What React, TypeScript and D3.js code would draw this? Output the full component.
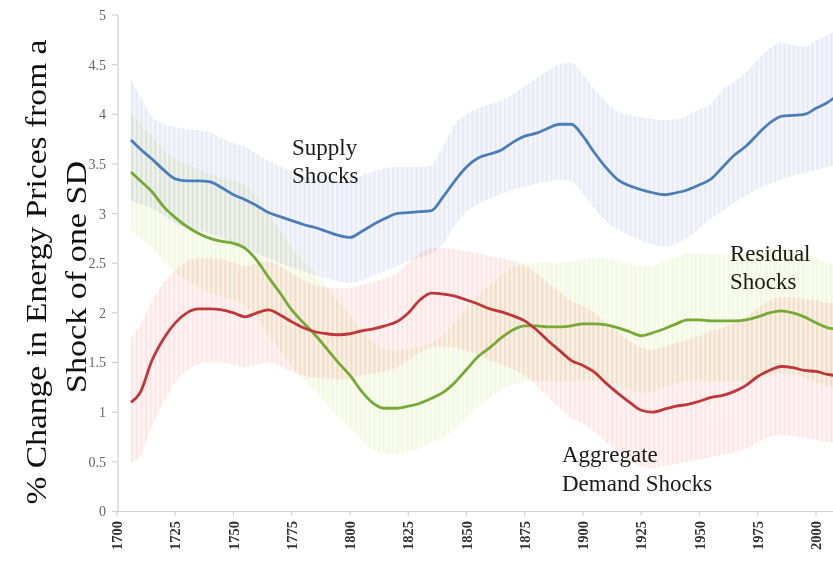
import React from "react";
import * as d3 from "d3";

const years = [1706,1710,1715,1720,1725,1730,1735,1740,1745,1750,1755,1760,1765,1770,1775,1780,1785,1790,1795,1800,1805,1810,1815,1820,1825,1830,1835,1840,1845,1850,1855,1860,1865,1870,1875,1880,1885,1890,1895,1900,1905,1910,1915,1920,1925,1930,1935,1940,1945,1950,1955,1960,1965,1970,1975,1980,1985,1990,1995,2000,2005,2008];

const supply = [3.74,3.65,3.55,3.44,3.35,3.33,3.33,3.32,3.26,3.19,3.14,3.08,3.01,2.97,2.93,2.89,2.86,2.82,2.78,2.76,2.82,2.89,2.95,3.0,3.01,3.02,3.03,3.17,3.33,3.47,3.56,3.6,3.64,3.72,3.78,3.81,3.86,3.9,3.9,3.78,3.61,3.46,3.34,3.28,3.24,3.21,3.19,3.21,3.24,3.29,3.35,3.47,3.59,3.68,3.8,3.91,3.98,3.99,4.0,4.06,4.12,4.17];
const supplyHi = [4.35,4.18,3.98,3.9,3.87,3.85,3.84,3.82,3.76,3.71,3.67,3.6,3.53,3.48,3.42,3.38,3.35,3.33,3.32,3.33,3.38,3.43,3.46,3.47,3.47,3.47,3.49,3.68,3.9,4.0,4.06,4.1,4.14,4.2,4.28,4.36,4.44,4.5,4.52,4.4,4.25,4.12,4.03,3.99,3.97,3.95,3.94,3.95,3.99,4.05,4.11,4.25,4.33,4.42,4.55,4.66,4.72,4.7,4.68,4.74,4.8,4.83];
const supplyLo = [3.13,3.1,3.05,2.98,2.9,2.85,2.83,2.8,2.76,2.7,2.65,2.6,2.55,2.5,2.46,2.42,2.38,2.35,2.32,2.3,2.33,2.38,2.42,2.47,2.52,2.56,2.6,2.7,2.88,3.02,3.1,3.15,3.2,3.24,3.27,3.3,3.32,3.34,3.32,3.2,3.05,2.92,2.84,2.78,2.73,2.69,2.67,2.7,2.76,2.85,2.95,3.03,3.11,3.18,3.25,3.3,3.34,3.38,3.41,3.44,3.47,3.48];

const residual = [3.42,3.33,3.22,3.07,2.96,2.87,2.8,2.75,2.72,2.7,2.65,2.53,2.36,2.2,2.03,1.9,1.78,1.64,1.5,1.37,1.21,1.09,1.04,1.04,1.06,1.09,1.14,1.2,1.3,1.43,1.56,1.65,1.75,1.83,1.87,1.87,1.86,1.86,1.87,1.89,1.89,1.88,1.85,1.81,1.77,1.8,1.84,1.89,1.93,1.93,1.92,1.92,1.92,1.93,1.96,2.0,2.02,2.0,1.96,1.9,1.85,1.84];
const residualHi = [4.01,3.9,3.78,3.64,3.55,3.5,3.45,3.4,3.36,3.33,3.28,3.17,3.0,2.83,2.66,2.52,2.4,2.26,2.12,1.98,1.82,1.7,1.64,1.62,1.63,1.66,1.7,1.78,1.9,2.05,2.18,2.28,2.38,2.46,2.5,2.51,2.51,2.51,2.52,2.54,2.55,2.55,2.53,2.5,2.47,2.48,2.52,2.56,2.6,2.6,2.59,2.59,2.59,2.6,2.62,2.65,2.66,2.64,2.6,2.55,2.5,2.49];
const residualLo = [2.83,2.76,2.66,2.52,2.42,2.33,2.26,2.2,2.16,2.13,2.07,1.95,1.78,1.62,1.46,1.33,1.21,1.08,0.95,0.84,0.72,0.62,0.58,0.58,0.6,0.64,0.69,0.74,0.83,0.94,1.06,1.14,1.22,1.28,1.31,1.32,1.31,1.31,1.31,1.32,1.32,1.3,1.27,1.23,1.19,1.21,1.25,1.29,1.32,1.32,1.31,1.31,1.31,1.32,1.34,1.37,1.39,1.38,1.35,1.3,1.26,1.25];

const demand = [1.1,1.2,1.52,1.74,1.9,2.0,2.04,2.04,2.03,2.0,1.96,2.0,2.03,1.98,1.91,1.85,1.81,1.79,1.78,1.79,1.82,1.84,1.87,1.91,2.0,2.13,2.2,2.19,2.17,2.13,2.09,2.04,2.01,1.97,1.92,1.83,1.72,1.62,1.52,1.47,1.4,1.29,1.19,1.1,1.02,1.0,1.03,1.06,1.08,1.11,1.15,1.17,1.21,1.27,1.36,1.42,1.46,1.45,1.42,1.41,1.38,1.37];
const demandHi = [1.75,1.88,2.12,2.3,2.43,2.52,2.55,2.55,2.54,2.51,2.47,2.5,2.52,2.47,2.4,2.33,2.28,2.26,2.25,2.25,2.28,2.31,2.35,2.4,2.5,2.6,2.65,2.65,2.64,2.62,2.6,2.57,2.55,2.52,2.48,2.4,2.3,2.21,2.12,2.07,2.0,1.9,1.8,1.72,1.65,1.63,1.66,1.7,1.73,1.77,1.82,1.85,1.9,1.96,2.05,2.12,2.16,2.16,2.14,2.13,2.1,2.1];
const demandLo = [0.49,0.56,0.86,1.1,1.3,1.42,1.48,1.5,1.5,1.48,1.45,1.48,1.5,1.46,1.41,1.37,1.35,1.34,1.33,1.34,1.37,1.39,1.41,1.45,1.52,1.6,1.65,1.66,1.65,1.62,1.58,1.52,1.48,1.43,1.37,1.27,1.15,1.04,0.94,0.88,0.8,0.7,0.6,0.52,0.45,0.43,0.46,0.48,0.5,0.52,0.55,0.57,0.6,0.63,0.7,0.75,0.77,0.76,0.74,0.72,0.7,0.7];

const yTicks = [0,0.5,1,1.5,2,2.5,3,3.5,4,4.5,5];
const yTickLabels = ["0","0.5","1","1.5","2","2.5","3","3.5","4","4.5","5"];
const xTicks = [1700,1725,1750,1775,1800,1825,1850,1875,1900,1925,1950,1975,2000];

const series = [
  { id: "sup", mean: supply, hi: supplyHi, lo: supplyLo, line: "#4a7ebb", bg: "#f5f6fb", stripe: "#e8eaf6" },
  { id: "res", mean: residual, hi: residualHi, lo: residualLo, line: "#74aa35", bg: "#fafcf2", stripe: "#f3f8e2" },
  { id: "dem", mean: demand, hi: demandHi, lo: demandLo, line: "#c0373a", bg: "#fff5f4", stripe: "#fde6e4" },
];

const W = 833, H = 562;

export default function App() {
  const x = d3.scaleLinear().domain([1700, 2000]).range([117, 816]);
  const y = d3.scaleLinear().domain([0, 5]).range([511.5, 15]);
  const serif = "'Liberation Serif', 'Times New Roman', serif";

  const area = (s: typeof series[number]) =>
    d3.area<number>()
      .x((_, i) => x(years[i]))
      .y0((_, i) => y(s.lo[i]))
      .y1((_, i) => y(s.hi[i]))
      .curve(d3.curveMonotoneX)(years.map((_, i) => i)) || "";
  const line = (s: typeof series[number]) =>
    d3.line<number>()
      .x((_, i) => x(years[i]))
      .y((_, i) => y(s.mean[i]))
      .curve(d3.curveMonotoneX)(years.map((_, i) => i)) || "";

  const step = x(1702) - x(1700);

  return (
    <svg width={W} height={H} style={{ position: "absolute", left: 0, top: 0, background: "#fff" }}>
      <defs>
        {series.map((s) => (
          <pattern key={s.id} id={"p-" + s.id} patternUnits="userSpaceOnUse" width={step} height={10} x={x(1700)}>
            <rect width={step} height={10} fill={s.bg} />
            <rect width={step / 2} height={10} fill={s.stripe} />
          </pattern>
        ))}
      </defs>
      <g style={{ isolation: "isolate" }}>
        {series.map((s) => (
          <path key={s.id} d={area(s)} fill={`url(#p-${s.id})`} style={{ mixBlendMode: "multiply" }} />
        ))}
      </g>
      <g stroke="#d0d0d0" strokeWidth={1.2} fill="none">
        <line x1={118} x2={118} y1={y(5)} y2={y(0)} />
        {yTicks.map((t) => (
          <line key={t} x1={112} x2={118} y1={y(t)} y2={y(t)} />
        ))}
        <line x1={118} x2={W} y1={y(0)} y2={y(0)} />
        {xTicks.map((t) => (
          <line key={t} x1={x(t)} x2={x(t)} y1={y(0)} y2={y(0) + 4} />
        ))}
      </g>
      {yTicks.map((t, i) => (
        <text key={t} x={106} y={y(t)} dy="0.35em" textAnchor="end" fontFamily={serif} fontSize={14} fill="#666">
          {yTickLabels[i]}
        </text>
      ))}
      {xTicks.map((t) => (
        <text key={t} transform={`translate(${x(t)},${521}) rotate(-90)`} dy="0.35em" textAnchor="end" fontFamily={serif} fontSize={14.5} fontWeight="bold" fill="#333">
          {t}
        </text>
      ))}
      {series.map((s) => (
        <path key={s.id} d={line(s)} fill="none" stroke={s.line} strokeWidth={2.8} strokeLinejoin="round" />
      ))}
      <text transform="translate(46,272) rotate(-90)" textAnchor="middle" fontFamily={serif} fontSize={30} fill="#111" textLength={465} lengthAdjust="spacingAndGlyphs">
        % Change in Energy Prices from a
      </text>
      <text transform="translate(86,277) rotate(-90)" textAnchor="middle" fontFamily={serif} fontSize={30} fill="#111" textLength={232} lengthAdjust="spacingAndGlyphs">
        Shock of one SD
      </text>
      <g fontFamily={serif} fontSize={23} fill="#1a1a1a">
        <text x={292} y={155}>Supply</text>
        <text x={292} y={183}>Shocks</text>
        <text x={730} y={261}>Residual</text>
        <text x={730} y={289}>Shocks</text>
        <text x={562} y={462}>Aggregate</text>
        <text x={562} y={491}>Demand Shocks</text>
      </g>
    </svg>
  );
}
